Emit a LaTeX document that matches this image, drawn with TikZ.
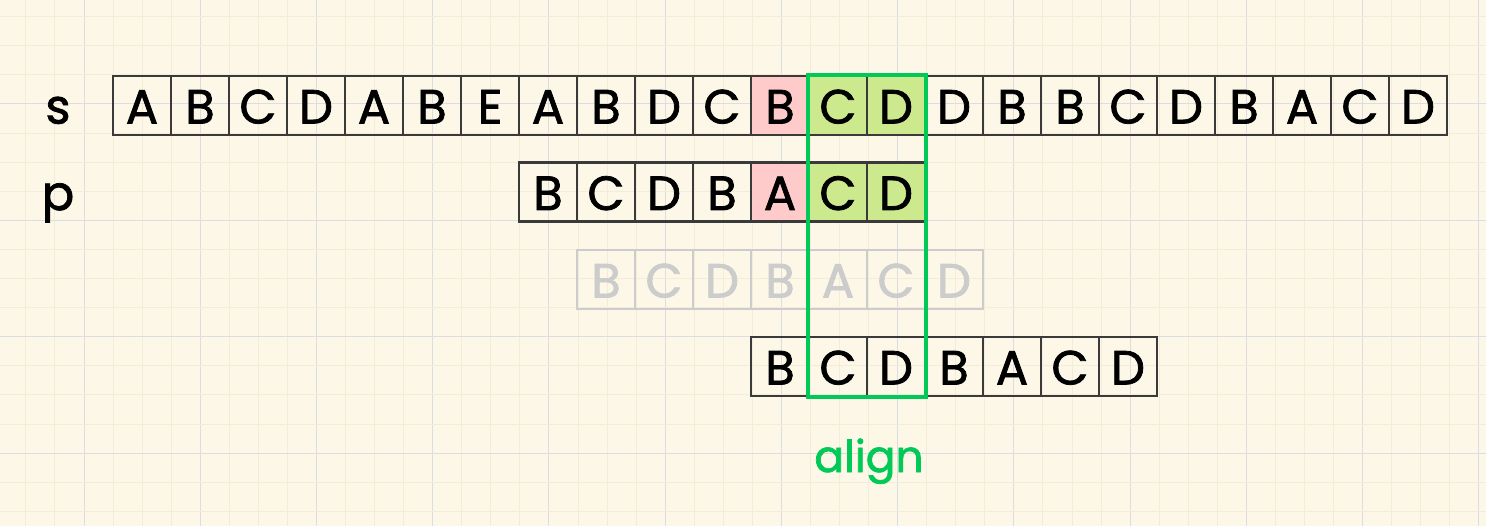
\documentclass[tikz,border=0pt]{standalone}
\usepackage{fontspec}
\setmainfont{Poppins}
\newfontfamily\cellfont{Poppins}[FakeBold=1.6]
\definecolor{bg}{HTML}{FCF7E6}
\definecolor{minorgrid}{HTML}{F3ECD8}
\definecolor{majorgrid}{HTML}{DCDDE3}
\definecolor{cellline}{HTML}{3A3A3A}
\definecolor{missfill}{HTML}{FFCACA}
\definecolor{hitfill}{HTML}{CDE98E}
\definecolor{alignc}{HTML}{00C957}
\definecolor{ghostc}{HTML}{CCCCCC}
\begin{document}
\begin{tikzpicture}[x=1pt,y=-1pt,
  cell/.style={draw=cellline, line width=2.4pt, minimum width=58pt, minimum height=59pt,
    inner sep=0pt, text height=36pt, text depth=0pt, font=\cellfont\fontsize{48}{48}\selectfont},
  plain/.style={},
  miss/.style={fill=missfill},
  hit/.style={fill=hitfill},
  ghost/.style={draw=ghostc, text=ghostc},
  rowlabel/.style={inner sep=0pt, text height=36pt, text depth=0pt, font=\cellfont\fontsize{48}{48}\selectfont}]
\fill[bg] (0,0) rectangle (1486,526);
\useasboundingbox (0,0) rectangle (1486,526);
% grid
\foreach \i in {-2,...,48} {
  \pgfmathtruncatemacro{\m}{mod(\i+100,4)}
  \ifnum\m=0
    \draw[majorgrid, line width=1pt] ({84+\i*29.06},0) -- ({84+\i*29.06},526);
  \else
    \draw[minorgrid, line width=1pt] ({84+\i*29.06},0) -- ({84+\i*29.06},526);
  \fi
}
\foreach \j in {-3,...,14} {
  \pgfmathtruncatemacro{\m}{mod(\j+100,4)}
  \ifnum\m=0
    \draw[majorgrid, line width=1pt] (0,{104+\j*29.1}) -- (1486,{104+\j*29.1});
  \else
    \draw[minorgrid, line width=1pt] (0,{104+\j*29.1}) -- (1486,{104+\j*29.1});
  \fi
}
% row labels
\node[rowlabel] (lbls) at (58,105.5) {s};
\node[rowlabel] (lblp) at (58,192) {p};
% s row
\foreach \l/\f [count=\k from 0] in {A/plain,B/plain,C/plain,D/plain,A/plain,B/plain,E/plain,A/plain,B/plain,D/plain,C/plain,B/miss,C/hit,D/hit,D/plain,B/plain,B/plain,C/plain,D/plain,B/plain,A/plain,C/plain,D/plain}
  \node[cell,\f] (s\k) at ({142+\k*58},105.5) {\l};
% p row
\foreach \l/\f [count=\k from 7] in {B/plain,C/plain,D/plain,B/plain,A/miss,C/hit,D/hit}
  \node[cell,\f] (p\k) at ({142+\k*58},192) {\l};
% ghost row
\foreach \l [count=\k from 8] in {B,C,D,B,A,C,D}
  \node[cell,ghost] (g\k) at ({142+\k*58},279.5) {\l};
% last row
\foreach \l [count=\k from 11] in {B,C,D,B,A,C,D}
  \node[cell] (q\k) at ({142+\k*58},366.5) {\l};
% align box
\draw[alignc, line width=4pt] (s12.north west) rectangle (q13.south east);
\node[text=alignc, font=\cellfont\fontsize{44}{44}\selectfont, anchor=base, inner sep=0pt] (align) at (869,472) {align};
\end{tikzpicture}
\end{document}
